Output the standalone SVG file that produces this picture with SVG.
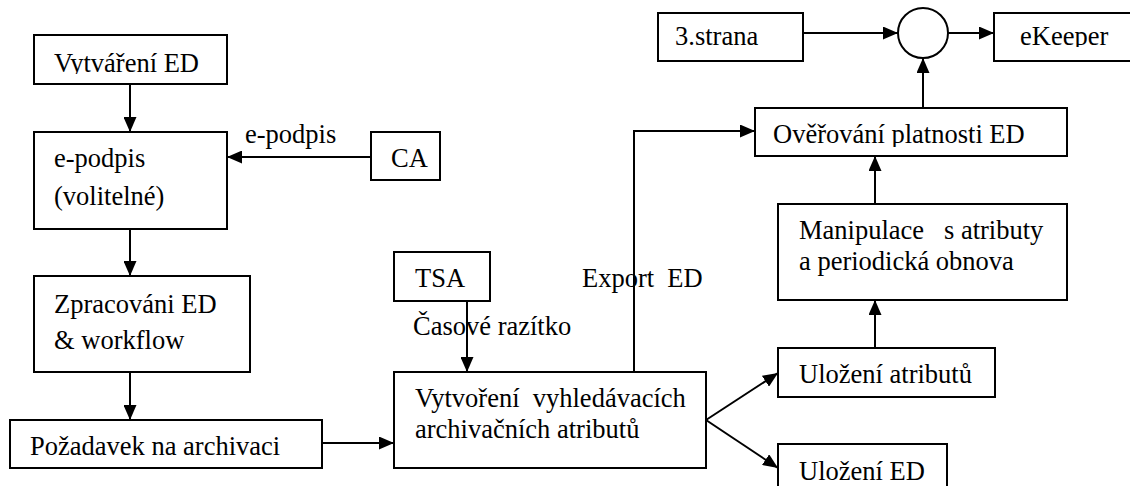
<svg xmlns="http://www.w3.org/2000/svg" width="1130" height="486" viewBox="0 0 1130 486">
<style>
.box{fill:#fff;stroke:#000;stroke-width:2}
.ln{fill:none;stroke:#000;stroke-width:2}
.t{font-family:'Liberation Serif','Times New Roman',serif;font-size:26.5px;fill:#000}
</style>
<defs>
<marker id="ah" markerWidth="15" markerHeight="13" refX="15" refY="6.5" orient="auto" markerUnits="userSpaceOnUse">
<path d="M0,0 L15,6.5 L0,13 Z" fill="#000"/>
</marker>
<clipPath id="c1"><rect x="34" y="35" width="193" height="39"/></clipPath>
<clipPath id="c2"><rect x="994" y="13" width="136" height="34"/></clipPath>
<clipPath id="c3"><rect x="755" y="108" width="312" height="39"/></clipPath>
</defs>
<rect width="1130" height="486" fill="#fff"/>
<g id="connectors">
<line class="ln" x1="130" y1="84" x2="130" y2="132" marker-end="url(#ah)"/>
<line class="ln" x1="371" y1="157" x2="227" y2="157" marker-end="url(#ah)"/>
<line class="ln" x1="130" y1="229" x2="130" y2="276" marker-end="url(#ah)"/>
<line class="ln" x1="130" y1="372" x2="130" y2="420" marker-end="url(#ah)"/>
<line class="ln" x1="322" y1="443" x2="394" y2="443" marker-end="url(#ah)"/>
<line class="ln" x1="467" y1="301" x2="467" y2="372" marker-end="url(#ah)"/>
<polyline class="ln" points="634,372 634,131 755,131" marker-end="url(#ah)"/>
<line class="ln" x1="706" y1="420" x2="778" y2="373" marker-end="url(#ah)"/>
<line class="ln" x1="706" y1="420" x2="778" y2="468" marker-end="url(#ah)"/>
<line class="ln" x1="875" y1="348" x2="875" y2="300" marker-end="url(#ah)"/>
<line class="ln" x1="875" y1="204" x2="875" y2="156" marker-end="url(#ah)"/>
<line class="ln" x1="923" y1="108" x2="923" y2="58" marker-end="url(#ah)"/>
<line class="ln" x1="803" y1="33" x2="898" y2="33" marker-end="url(#ah)"/>
<line class="ln" x1="948" y1="33" x2="994" y2="33" marker-end="url(#ah)"/>
<text class="t" x="245" y="143">e-podpis</text>
<text class="t" x="413" y="335">Časové razítko</text>
<text class="t" x="582" y="287" xml:space="preserve">Export  ED</text>
</g>
<g id="n-vytvareni"><rect class="box" x="34" y="35" width="193" height="49"/><text class="t" x="54" y="72" clip-path="url(#c1)">Vytváření ED</text></g>
<g id="n-epodpis"><rect class="box" x="34" y="132" width="193" height="97"/><text class="t" x="54" y="167">e-podpis</text><text class="t" x="54" y="205">(volitelné)</text></g>
<g id="n-ca"><rect class="box" x="371" y="132" width="69" height="48"/><text class="t" x="391" y="167">CA</text></g>
<g id="n-zpracovani"><rect class="box" x="34" y="276" width="216" height="96"/><text class="t" x="54" y="313">Zpracováni ED</text><text class="t" x="54" y="349">&amp; workflow</text></g>
<g id="n-pozadavek"><rect class="box" x="10" y="420" width="312" height="48"/><text class="t" x="30" y="455">Požadavek na archivaci</text></g>
<g id="n-tsa"><rect class="box" x="394" y="252" width="96" height="49"/><text class="t" x="415" y="287">TSA</text></g>
<g id="n-vytvoreni"><rect class="box" x="394" y="372" width="312" height="96"/><text class="t" x="415" y="407" xml:space="preserve">Vytvoření  vyhledávacích</text><text class="t" x="415" y="438">archivačních atributů</text></g>
<g id="n-ulozeni-atr"><rect class="box" x="778" y="348" width="217" height="49"/><text class="t" x="799" y="383">Uložení atributů</text></g>
<g id="n-ulozeni-ed"><rect class="box" x="778" y="444" width="169" height="60"/><text class="t" x="799" y="480">Uložení ED</text></g>
<g id="n-manipulace"><rect class="box" x="778" y="204" width="289" height="96"/><text class="t" x="799" y="239" xml:space="preserve">Manipulace   s atributy</text><text class="t" x="799" y="270">a periodická obnova</text></g>
<g id="n-overovani"><rect class="box" x="755" y="108" width="312" height="48"/><text class="t" x="773" y="143" clip-path="url(#c3)">Ověřování platnosti ED</text></g>
<g id="n-3strana"><rect class="box" x="658" y="13" width="145" height="48"/><text class="t" x="675" y="45">3.strana</text></g>
<g id="n-circle"><circle class="box" cx="923" cy="33" r="25"/></g>
<g id="n-ekeeper"><rect class="box" x="994" y="13" width="150" height="48"/><text class="t" x="1020" y="45" clip-path="url(#c2)">eKeeper</text></g>
</svg>
